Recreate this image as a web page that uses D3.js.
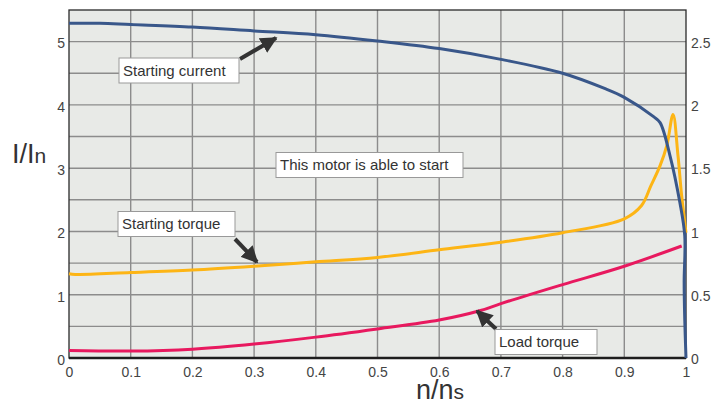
<!DOCTYPE html>
<html>
<head>
<meta charset="utf-8">
<script src="https://cdn.jsdelivr.net/npm/d3@7"></script>
<style>
	body { margin: 0; background: #fff; }
	svg text { font-family: "Liberation Sans", Arial, sans-serif; }
</style>
</head>
<body>
<div id="chart"></div>
<script>
// speed ratio n/ns on the x axis
var xTicks = [0, 0.1, 0.2, 0.3, 0.4, 0.5, 0.6, 0.7, 0.8, 0.9, 1];
var leftTicks = [0, 1, 2, 3, 4, 5];
var rightTicks = [0, 0.5, 1, 1.5, 2, 2.5];

// starting current, I/In (left axis)
var currentX = [0, 0.05, 0.1, 0.2, 0.3, 0.4, 0.5, 0.6, 0.7, 0.8, 0.868, 0.9, 0.948, 0.958, 0.974, 0.99, 0.998, 0.997, 0.998, 1];
var currentY = [5.29, 5.29, 5.27, 5.23, 5.17, 5.11, 5.01, 4.89, 4.72, 4.5, 4.26, 4.12, 3.81, 3.72, 3.2, 2.46, 1.93, 1.2, 0.6, 0];

// starting torque (right axis)
var torqueX = [0, 0.01, 0.1, 0.2, 0.3, 0.4, 0.5, 0.6, 0.7, 0.8, 0.9, 0.928, 0.943, 0.958, 0.969, 0.979, 0.987, 0.993, 1];
var torqueY = [0.665, 0.66, 0.675, 0.695, 0.725, 0.76, 0.795, 0.855, 0.915, 0.99, 1.1, 1.205, 1.36, 1.52, 1.68, 1.925, 1.6, 1.28, 0.99];

// load torque (right axis)
var loadX = [0, 0.1, 0.2, 0.3, 0.4, 0.5, 0.6, 0.667, 0.7, 0.8, 0.9, 0.993];
var loadY = [0.06, 0.055, 0.07, 0.11, 0.165, 0.23, 0.3, 0.375, 0.43, 0.58, 0.725, 0.885];

var W = 715, H = 408;
var margin = { top: 10, right: 29, bottom: 50, left: 69 };
var width = W - margin.left - margin.right;
var height = H - margin.top - margin.bottom;

var svg = d3.select("#chart").append("svg")
	.attr("width", W)
	.attr("height", H);

var g = svg.append("g")
	.attr("transform", "translate(" + margin.left + "," + margin.top + ")");

var x = d3.scaleLinear().domain([0, 1]).range([0, width]);
var y = d3.scaleLinear().domain([0, 5.5]).range([height, 0]);
var yR = d3.scaleLinear().domain([0, 2.75]).range([height, 0]);

// plot background
g.append("rect")
	.attr("width", width)
	.attr("height", height)
	.attr("fill", "#e8eae7");

// grid
var hGrid = d3.range(1, 11).map(function (i) { return i * 0.5; });
var vGrid = xTicks.slice(1, -1);

g.append("g").selectAll("line").data(hGrid).enter().append("line")
	.attr("x1", 0).attr("x2", width)
	.attr("y1", function (d) { return y(d); })
	.attr("y2", function (d) { return y(d); })
	.attr("stroke", "#8c8c8c").attr("stroke-width", 1.4);

g.append("g").selectAll("line").data(vGrid).enter().append("line")
	.attr("y1", 0).attr("y2", height)
	.attr("x1", function (d) { return x(d); })
	.attr("x2", function (d) { return x(d); })
	.attr("stroke", "#8c8c8c").attr("stroke-width", 1.4);

// frame
g.append("rect")
	.attr("width", width)
	.attr("height", height)
	.attr("fill", "none")
	.attr("stroke", "#2a2a2a")
	.attr("stroke-width", 1.3);
g.append("line")
	.attr("x1", 0).attr("x2", width)
	.attr("y1", height).attr("y2", height)
	.attr("stroke", "#1e1e1e").attr("stroke-width", 2.6);

// axes
function plain(d) { return String(d); }
function styleAxis(sel) {
	sel.select(".domain").remove();
	sel.selectAll("text").attr("fill", "#444").style("font-size", "14px");
}

g.append("g")
	.attr("transform", "translate(0," + height + ")")
	.call(d3.axisBottom(x).tickValues(xTicks).tickSize(0).tickPadding(9.5).tickFormat(plain))
	.call(styleAxis);

g.append("g")
	.call(d3.axisLeft(y).tickValues(leftTicks).tickSize(0).tickPadding(4).tickFormat(plain))
	.call(styleAxis)
	.selectAll("text").attr("dy", "0.45em");

g.append("g")
	.attr("transform", "translate(" + width + ",0)")
	.call(d3.axisRight(yR).tickValues(rightTicks).tickSize(0).tickPadding(5).tickFormat(plain))
	.call(styleAxis)
	.selectAll("text").attr("dy", "0.4em");

// curves
var lineL = d3.line()
	.x(function (d) { return x(d[0]); })
	.y(function (d) { return y(d[1]); })
	.curve(d3.curveCatmullRom.alpha(0.5));
var lineR = d3.line()
	.x(function (d) { return x(d[0]); })
	.y(function (d) { return yR(d[1]); })
	.curve(d3.curveCatmullRom.alpha(0.5));

g.append("path")
	.datum(d3.zip(loadX, loadY))
	.attr("d", lineR)
	.attr("fill", "none").attr("stroke", "#e8195f").attr("stroke-width", 3);

g.append("path")
	.datum(d3.zip(torqueX, torqueY))
	.attr("d", lineR)
	.attr("fill", "none").attr("stroke", "#fdb515").attr("stroke-width", 3)
	.attr("stroke-linejoin", "round");

g.append("path")
	.datum(d3.zip(currentX, currentY))
	.attr("d", lineL)
	.attr("fill", "none").attr("stroke", "#39578a").attr("stroke-width", 3)
	.attr("stroke-linejoin", "round");

// annotations
var defs = svg.append("defs");
defs.append("marker")
	.attr("id", "head")
	.attr("viewBox", "0 0 10 10")
	.attr("refX", 9).attr("refY", 5)
	.attr("markerWidth", 4.2).attr("markerHeight", 4.2)
	.attr("markerUnits", "strokeWidth")
	.attr("orient", "auto")
	.append("path").attr("d", "M0,0 L10,5 L0,10 z").attr("fill", "#333");

function note(label, bx, by, bw, arrow) {
	var a = svg.append("g");
	if (arrow) {
		a.append("line")
			.attr("x1", arrow[0]).attr("y1", arrow[1])
			.attr("x2", arrow[2]).attr("y2", arrow[3])
			.attr("stroke", "#333").attr("stroke-width", 4)
			.attr("marker-end", "url(#head)");
	}
	a.append("rect")
		.attr("x", bx).attr("y", by)
		.attr("width", bw).attr("height", 25)
		.attr("fill", "#fff")
		.attr("stroke", "#999").attr("stroke-width", 1);
	a.append("text")
		.attr("x", bx + 4).attr("y", by + 17.5)
		.attr("fill", "#333")
		.style("font-size", "15px")
		.text(label);
}

note("Starting current", 119, 58, 120, [240, 59, 276, 38]);
note("Starting torque", 118, 211.5, 117, [235, 239, 257, 262]);
note("Load torque", 495, 329.5, 102, [496, 329, 477, 311]);
note("This motor is able to start", 276, 152.5, 187, null);

// axis titles
var yt = svg.append("text")
	.attr("x", 12).attr("y", 163)
	.attr("fill", "#333")
	.style("font-size", "27px");
yt.append("tspan").text("I/I");
yt.append("tspan").style("font-size", "21px").text("n");

var xt = svg.append("text")
	.attr("x", 416).attr("y", 399)
	.attr("fill", "#333")
	.style("font-size", "27px");
xt.append("tspan").text("n/n");
xt.append("tspan").style("font-size", "21px").text("s");
</script>
</body>
</html>
